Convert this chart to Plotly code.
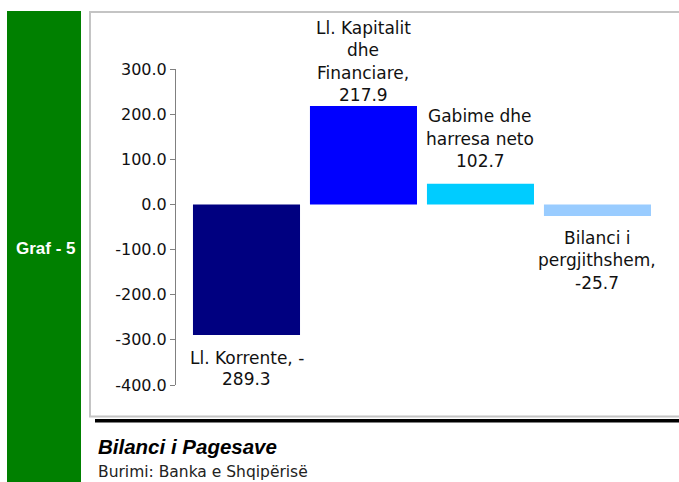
import plotly.graph_objects as go

# ---- data ----
categories = ["Ll. Korrente", "Ll. Kapitalit dhe Financiare",
              "Gabime dhe harresa neto", "Bilanci i pergjithshem"]
values = [-289.3, 217.9, 45.7, -25.7]
bar_labels = ["Ll. Korrente, -<br>289.3",
              "Ll. Kapitalit<br>dhe<br>Financiare,<br>217.9",
              "Gabime dhe<br>harresa neto<br>102.7",
              "Bilanci i<br>pergjithshem,<br>-25.7"]
bar_colors = ["#000080", "#0000FF", "#00CCFF", "#99CCFF"]
tick_vals = [-400, -300, -200, -100, 0, 100, 200, 300]
tick_text = [f"{v:.1f}" for v in tick_vals]
chart_tag = "Graf - 5"
title_text = "Bilanci i Pagesave"
source_text = "Burimi: Banka e Shqipërisë"

# ---- layout geometry ----
W, H = 679, 482
L, R, T, B = 176, 11, 69, 97
PW, PH = W - L - R, H - T - B


def px(x):
    return (x - L) / PW


def py(y):
    return (H - B - y) / PH


FONT = "DejaVu Sans"
LINE = 22.6          # label line spacing in px
GAP_POS = [0, -1.3, 10.4, 0]   # first-line box offset from bar end (positive bars)
GAP_NEG = [-10.7, 0, 0, -9.6]  # (negative bars)

fig = go.Figure()
fig.add_trace(go.Bar(
    x=categories, y=values, width=0.915,
    marker=dict(color=bar_colors, line=dict(width=0)),
    hoverinfo="x+y", cliponaxis=False,
))

annotations = []
for i, (cat, val, lab) in enumerate(zip(categories, values, bar_labels)):
    lines = lab.split("<br>")
    if val >= 0:
        for k, line in enumerate(reversed(lines)):
            annotations.append(dict(x=cat, y=val, xref="x", yref="y", text=line,
                                    showarrow=False, yanchor="bottom",
                                    yshift=GAP_POS[i] + k * LINE,
                                    font=dict(family=FONT, size=17, color="#111")))
    else:
        step = 21.5 if i == 0 else LINE
        for k, line in enumerate(lines):
            annotations.append(dict(x=cat, y=val, xref="x", yref="y", text=line,
                                    showarrow=False, yanchor="top",
                                    yshift=GAP_NEG[i] - k * step,
                                    font=dict(family=FONT, size=17, color="#111")))

annotations += [
    dict(x=px(45.5), y=py(248), xref="paper", yref="paper", text=f"<b>{chart_tag}</b>",
         showarrow=False, xanchor="center", yanchor="middle",
         font=dict(family="Liberation Sans", size=17, color="white")),
    dict(x=px(96), y=py(446), xref="paper", yref="paper", text=f"<b><i>{title_text}</i></b>",
         showarrow=False, xanchor="left", yanchor="middle",
         font=dict(family="Liberation Sans", size=20.5, color="black")),
    dict(x=px(96), y=py(472), xref="paper", yref="paper", text=source_text,
         showarrow=False, xanchor="left", yanchor="middle",
         font=dict(family=FONT, size=15.5, color="#222")),
]

shapes = [
    dict(type="rect", xref="paper", yref="paper", x0=px(7), x1=px(81), y0=py(495), y1=py(11),
         fillcolor="#008000", line=dict(width=0), layer="below"),
    dict(type="rect", xref="paper", yref="paper", x0=px(90), x1=px(700), y0=py(416.5), y1=py(12),
         fillcolor="rgba(0,0,0,0)", line=dict(color="#c4c4c4", width=2), layer="below"),
    dict(type="rect", xref="paper", yref="paper", x0=px(95), x1=px(700), y0=py(422.5), y1=py(419),
         fillcolor="black", line=dict(width=0), layer="below"),
]

fig.update_layout(
    width=W, height=H,
    margin=dict(l=L, r=R, t=T, b=B, pad=0),
    paper_bgcolor="white", plot_bgcolor="rgba(0,0,0,0)",
    showlegend=False,
    annotations=annotations, shapes=shapes,
    xaxis=dict(visible=False, range=[-0.6026, 3.603], fixedrange=True),
    yaxis=dict(range=[-400, 300], tickvals=tick_vals, ticktext=tick_text,
               showgrid=False, zeroline=False, showline=True, linecolor="#808080",
               linewidth=1, ticks="outside", ticklen=5, tickcolor="#808080",
               tickfont=dict(family=FONT, size=16, color="#111"), fixedrange=True),
)

fig.write_html("out.html", config={"displayModeBar": False},
               post_script="document.body.style.margin='0px';document.body.style.overflow='hidden';")
